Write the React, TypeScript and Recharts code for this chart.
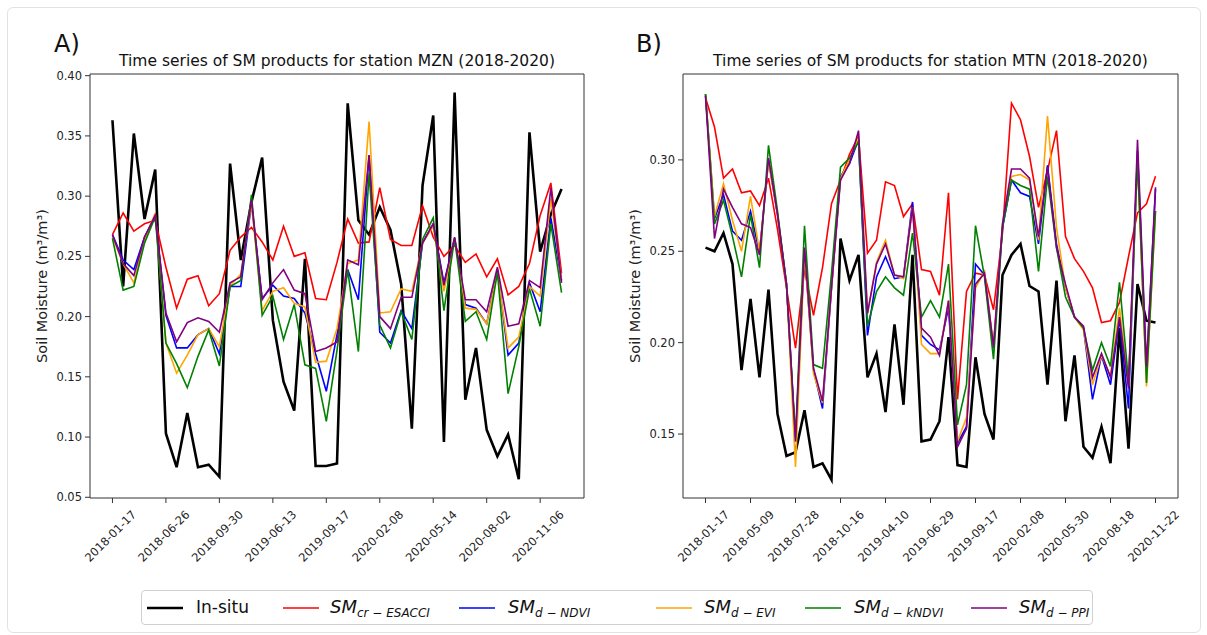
import React from 'react';
import { LineChart, Line, XAxis, YAxis, ReferenceLine } from 'recharts';

const FONT = '"DejaVu Sans", sans-serif';

// tick labels (every 5th observation)
const DATES_A = ['2018-01-17', '2018-06-26', '2018-09-30', '2019-06-13', '2019-09-17', '2020-02-08', '2020-05-14', '2020-08-02', '2020-11-06'];
const DATES_B = ['2018-01-17', '2018-05-09', '2018-07-28', '2018-10-16', '2019-04-10', '2019-06-29', '2019-09-17', '2020-02-08', '2020-05-30', '2020-08-18', '2020-11-22'];

// station MZN
const insituA = [0.363, 0.225, 0.352, 0.281, 0.322, 0.103, 0.075, 0.120, 0.075, 0.077, 0.067, 0.327, 0.247, 0.295, 0.332, 0.197, 0.146, 0.122, 0.248, 0.076, 0.076, 0.078, 0.377, 0.280, 0.268, 0.291, 0.272, 0.227, 0.107, 0.309, 0.367, 0.096, 0.386, 0.131, 0.174, 0.106, 0.084, 0.102, 0.065, 0.353, 0.254, 0.285, 0.306];
const esacciA = [0.268, 0.286, 0.271, 0.277, 0.280, 0.241, 0.207, 0.231, 0.234, 0.209, 0.219, 0.255, 0.266, 0.274, 0.262, 0.247, 0.275, 0.250, 0.253, 0.215, 0.214, 0.245, 0.281, 0.261, 0.262, 0.307, 0.264, 0.259, 0.259, 0.292, 0.266, 0.250, 0.259, 0.245, 0.252, 0.233, 0.248, 0.218, 0.225, 0.244, 0.284, 0.311, 0.236];
const ndviA = [0.268, 0.247, 0.239, 0.266, 0.283, 0.201, 0.174, 0.174, 0.185, 0.190, 0.169, 0.225, 0.225, 0.294, 0.215, 0.226, 0.217, 0.215, 0.203, 0.169, 0.138, 0.185, 0.239, 0.214, 0.334, 0.187, 0.178, 0.205, 0.190, 0.261, 0.277, 0.228, 0.265, 0.210, 0.207, 0.194, 0.239, 0.168, 0.178, 0.228, 0.204, 0.282, 0.230];
const eviA = [0.266, 0.244, 0.228, 0.264, 0.286, 0.178, 0.153, 0.168, 0.185, 0.190, 0.175, 0.226, 0.235, 0.294, 0.205, 0.221, 0.224, 0.211, 0.208, 0.162, 0.163, 0.190, 0.244, 0.247, 0.362, 0.203, 0.204, 0.223, 0.221, 0.261, 0.275, 0.221, 0.265, 0.207, 0.206, 0.194, 0.237, 0.174, 0.183, 0.225, 0.217, 0.298, 0.230];
const kndviA = [0.265, 0.222, 0.225, 0.261, 0.283, 0.178, 0.161, 0.141, 0.167, 0.189, 0.159, 0.225, 0.230, 0.301, 0.201, 0.217, 0.181, 0.210, 0.160, 0.157, 0.113, 0.172, 0.239, 0.171, 0.319, 0.193, 0.174, 0.204, 0.181, 0.264, 0.282, 0.205, 0.265, 0.196, 0.204, 0.181, 0.237, 0.136, 0.175, 0.223, 0.192, 0.277, 0.220];
const ppiA = [0.268, 0.244, 0.234, 0.266, 0.284, 0.203, 0.179, 0.195, 0.199, 0.196, 0.187, 0.228, 0.233, 0.297, 0.214, 0.228, 0.239, 0.222, 0.219, 0.171, 0.174, 0.179, 0.247, 0.243, 0.334, 0.200, 0.190, 0.216, 0.216, 0.261, 0.277, 0.226, 0.266, 0.214, 0.214, 0.204, 0.241, 0.192, 0.194, 0.230, 0.224, 0.307, 0.228];

// station MTN
const insituB = [0.252, 0.250, 0.260, 0.243, 0.185, 0.224, 0.181, 0.229, 0.161, 0.138, 0.140, 0.163, 0.132, 0.134, 0.125, 0.257, 0.234, 0.248, 0.181, 0.194, 0.162, 0.210, 0.166, 0.248, 0.146, 0.147, 0.157, 0.203, 0.133, 0.132, 0.192, 0.161, 0.147, 0.237, 0.248, 0.254, 0.231, 0.228, 0.177, 0.234, 0.157, 0.193, 0.143, 0.137, 0.154, 0.134, 0.208, 0.142, 0.232, 0.212, 0.211];
const esacciB = [0.334, 0.318, 0.290, 0.295, 0.282, 0.283, 0.275, 0.290, 0.262, 0.230, 0.197, 0.240, 0.215, 0.241, 0.276, 0.289, 0.303, 0.313, 0.249, 0.256, 0.288, 0.286, 0.269, 0.276, 0.240, 0.239, 0.226, 0.282, 0.169, 0.228, 0.238, 0.237, 0.218, 0.260, 0.331, 0.322, 0.302, 0.274, 0.294, 0.316, 0.258, 0.246, 0.239, 0.230, 0.211, 0.212, 0.222, 0.247, 0.271, 0.276, 0.291];
const ndviB = [0.336, 0.268, 0.281, 0.261, 0.256, 0.272, 0.249, 0.300, 0.270, 0.232, 0.146, 0.250, 0.185, 0.164, 0.230, 0.291, 0.298, 0.311, 0.204, 0.236, 0.247, 0.235, 0.236, 0.277, 0.204, 0.199, 0.196, 0.219, 0.145, 0.154, 0.243, 0.237, 0.197, 0.263, 0.289, 0.282, 0.280, 0.254, 0.297, 0.254, 0.230, 0.214, 0.208, 0.169, 0.193, 0.177, 0.213, 0.164, 0.305, 0.185, 0.284];
const eviB = [0.336, 0.269, 0.287, 0.267, 0.250, 0.280, 0.250, 0.299, 0.270, 0.232, 0.132, 0.250, 0.183, 0.167, 0.230, 0.290, 0.300, 0.312, 0.216, 0.244, 0.256, 0.237, 0.235, 0.274, 0.199, 0.194, 0.194, 0.223, 0.146, 0.159, 0.230, 0.239, 0.198, 0.265, 0.291, 0.292, 0.289, 0.256, 0.324, 0.263, 0.230, 0.214, 0.207, 0.177, 0.193, 0.182, 0.219, 0.176, 0.300, 0.176, 0.272];
const kndviB = [0.336, 0.265, 0.278, 0.258, 0.236, 0.270, 0.241, 0.308, 0.272, 0.232, 0.148, 0.264, 0.188, 0.186, 0.238, 0.296, 0.301, 0.310, 0.209, 0.228, 0.236, 0.230, 0.226, 0.260, 0.214, 0.223, 0.214, 0.243, 0.155, 0.177, 0.264, 0.236, 0.191, 0.263, 0.289, 0.286, 0.284, 0.239, 0.291, 0.252, 0.225, 0.214, 0.208, 0.185, 0.200, 0.187, 0.233, 0.179, 0.300, 0.178, 0.272];
const ppiB = [0.335, 0.257, 0.284, 0.274, 0.265, 0.263, 0.248, 0.301, 0.270, 0.232, 0.146, 0.252, 0.186, 0.168, 0.230, 0.289, 0.298, 0.316, 0.216, 0.243, 0.254, 0.237, 0.236, 0.274, 0.208, 0.203, 0.193, 0.223, 0.143, 0.153, 0.232, 0.238, 0.198, 0.265, 0.295, 0.295, 0.290, 0.258, 0.296, 0.252, 0.232, 0.214, 0.209, 0.181, 0.194, 0.181, 0.214, 0.175, 0.311, 0.187, 0.285];

const Y_TICKS_A = [0.05, 0.1, 0.15, 0.2, 0.25, 0.3, 0.35, 0.4];
const Y_TICKS_B = [0.15, 0.2, 0.25, 0.3];

const SERIES = [
  { key: 'insitu', color: '#000000', width: 2.6, sub: '' },
  { key: 'esacci', color: '#ff0000', width: 1.6, sub: 'cr − ESACCI' },
  { key: 'ndvi', color: '#0000ff', width: 1.6, sub: 'd − NDVI' },
  { key: 'evi', color: '#ffa500', width: 1.6, sub: 'd − EVI' },
  { key: 'kndvi', color: '#008000', width: 1.6, sub: 'd − kNDVI' },
  { key: 'ppi', color: '#800080', width: 1.6, sub: 'd − PPI' },
];

const buildRows = (insitu: number[], esacci: number[], ndvi: number[], evi: number[], kndvi: number[], ppi: number[]) =>
  insitu.map((v, i) => ({ i, insitu: v, esacci: esacci[i], ndvi: ndvi[i], evi: evi[i], kndvi: kndvi[i], ppi: ppi[i] }));

const rowsA = buildRows(insituA, esacciA, ndviA, eviA, kndviA, ppiA);
const rowsB = buildRows(insituB, esacciB, ndviB, eviB, kndviB, ppiB);

const DateTick = ({ x, y, payload, labels }: any) => {
  const cx = x - 2;
  const cy = y + 31;
  return (
    <text x={cx} y={cy} textAnchor="middle" dominantBaseline="central" transform={`rotate(-45 ${cx} ${cy})`}
      fontSize={11.5} fill="#222" fontFamily={FONT}>
      {labels[Math.round(payload.value / 5)]}
    </text>
  );
};

const YLabel = ({ viewBox }: any) => {
  const cx = viewBox.x + 12;
  const cy = viewBox.y + viewBox.height / 2;
  return (
    <text x={cx} y={cy} textAnchor="middle" dominantBaseline="central" transform={`rotate(-90 ${cx} ${cy})`}
      fontSize={14.5} fill="#222" fontFamily={FONT}>
      Soil Moisture (m³/m³)
    </text>
  );
};

type PanelProps = {
  rows: any[]; labels: string[]; yDomain: [number, number]; yTicks: number[];
  width: number; left: number; right: number;
};

const Panel = ({ rows, labels, yDomain, yTicks, width, left, right }: PanelProps) => {
  const n = rows.length - 1;
  const xDomain: [number, number] = [-0.05 * n, n * 1.05];
  const xTicks = labels.map((_, k) => k * 5);
  return (
    <LineChart width={width} height={635} data={rows} margin={{ top: 74, right, bottom: 77, left }}>
      <XAxis dataKey="i" type="number" domain={xDomain} ticks={xTicks} interval={0} height={60}
        stroke="#333" tickSize={5} tick={<DateTick labels={labels} />} allowDataOverflow />
      <YAxis type="number" domain={yDomain} ticks={yTicks} width={60} stroke="#333" tickSize={5} tickMargin={3}
        tickFormatter={(v: number) => v.toFixed(2)} allowDataOverflow
        tick={{ fontSize: 11.5, fill: '#222', fontFamily: FONT }} label={<YLabel />} />
      {/* top and right spines */}
      <ReferenceLine y={yDomain[1]} stroke="#333" strokeWidth={1} ifOverflow="extendDomain" />
      <ReferenceLine x={xDomain[1]} stroke="#333" strokeWidth={1} ifOverflow="extendDomain" />
      {SERIES.map((s) => (
        <Line key={s.key} dataKey={s.key} type="linear" stroke={s.color} strokeWidth={s.width}
          dot={false} activeDot={false} isAnimationActive={false} />
      ))}
    </LineChart>
  );
};

const LEGEND_POS = [
  { line: 5, text: 54 },
  { line: 141, text: 188 },
  { line: 317, text: 366 },
  { line: 514, text: 562 },
  { line: 663, text: 712 },
  { line: 829, text: 877 },
];

const Legend = () => (
  <div style={{ position: 'absolute', left: 141, top: 590, width: 950, height: 33, border: '1px solid #d0d0d0', borderRadius: 4, background: '#fff', fontFamily: FONT }}>
    {SERIES.map((s, k) => (
      <React.Fragment key={s.key}>
        <svg style={{ position: 'absolute', left: LEGEND_POS[k].line, top: 12, overflow: 'visible' }} width={36} height={10}>
          <line x1={0} x2={36} y1={5} y2={5} stroke={s.color} strokeWidth={s.width} />
        </svg>
        <div style={{ position: 'absolute', left: LEGEND_POS[k].text, top: 5, lineHeight: '22px', whiteSpace: 'nowrap', color: '#111' }}>
          {s.sub === '' ? (
            <span style={{ fontSize: 17 }}>In-situ</span>
          ) : (
            <span style={{ fontStyle: 'italic', fontSize: 18 }}>
              SM<sub style={{ fontSize: 12, verticalAlign: '-4px' }}>{s.sub}</sub>
            </span>
          )}
        </div>
      </React.Fragment>
    ))}
  </div>
);

const textStyle: React.CSSProperties = { position: 'absolute', fontFamily: FONT, color: '#111', whiteSpace: 'nowrap' };

export default function App() {
  return (
    <div style={{ position: 'absolute', left: 0, top: 0, width: 1207, height: 635, background: '#fff', overflow: 'hidden' }}>
      <div style={{ position: 'absolute', left: 7, top: 7, width: 1192, height: 624, border: '1px solid #e2e2e2', borderRadius: 6 }} />
      <div style={{ position: 'absolute', left: 0, top: 0 }}>
        <Panel rows={rowsA} labels={DATES_A} yDomain={[0.0494, 0.4014]} yTicks={Y_TICKS_A} width={600} left={30} right={16} />
      </div>
      <div style={{ position: 'absolute', left: 600, top: 0 }}>
        <Panel rows={rowsB} labels={DATES_B} yDomain={[0.115, 0.347]} yTicks={Y_TICKS_B} width={607} left={23} right={29} />
      </div>
      <div style={{ ...textStyle, left: 54, top: 30, fontSize: 24 }}>A)</div>
      <div style={{ ...textStyle, left: 636, top: 30, fontSize: 24 }}>B)</div>
      <div style={{ ...textStyle, left: 90, width: 494, top: 52, fontSize: 15.5, textAlign: 'center' }}>
        Time series of SM products for station MZN (2018-2020)
      </div>
      <div style={{ ...textStyle, left: 683, width: 495, top: 52, fontSize: 15.5, textAlign: 'center' }}>
        Time series of SM products for station MTN (2018-2020)
      </div>
      <Legend />
    </div>
  );
}
